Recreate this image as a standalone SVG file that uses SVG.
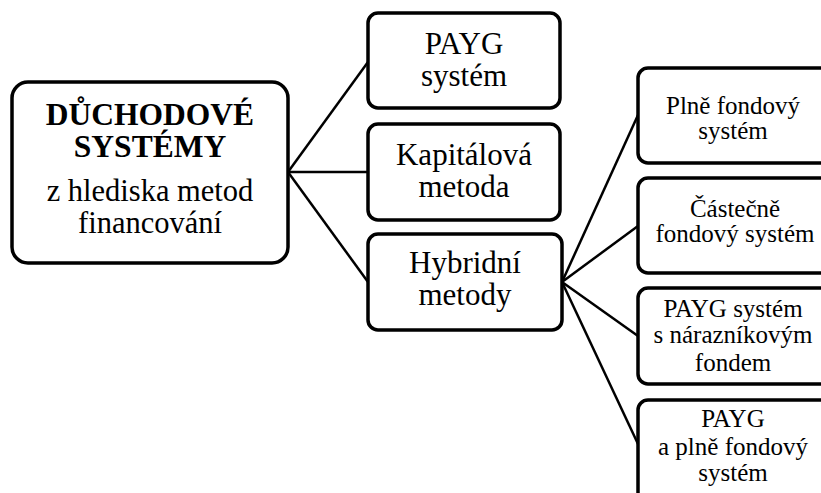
<svg xmlns="http://www.w3.org/2000/svg" width="821" height="493" viewBox="0 0 821 493">
<style>
.box{fill:#fff;stroke:#000;stroke-width:3.5}
.c{stroke:#000;stroke-width:2.5;fill:none}
text{font-family:"Times New Roman","Liberation Serif",Tinos,"Noto Serif","DejaVu Serif",serif;text-anchor:middle;fill:#000}
.b{font-weight:bold;font-size:31.5px}
.m{font-size:31px}
.r{font-size:30.5px}
.s{font-size:25px}
</style>
<rect width="821" height="493" fill="#fff"/>
<g id="connectors">
<line class="c" x1="288" y1="172" x2="368" y2="62"/>
<line class="c" x1="288" y1="172" x2="368" y2="172"/>
<line class="c" x1="288" y1="172" x2="368" y2="282"/>
<line class="c" x1="562" y1="282" x2="638" y2="115"/>
<line class="c" x1="562" y1="282" x2="638" y2="226"/>
<line class="c" x1="562" y1="282" x2="638" y2="336"/>
<line class="c" x1="562" y1="282" x2="638" y2="444"/>
</g>
<g id="root">
<rect class="box" x="12" y="82" width="276" height="181" rx="16"/>
<text class="b" x="150" y="125">DŮCHODOVÉ</text>
<text class="b" x="150" y="157">SYSTÉMY</text>
<text class="r" x="150" y="201">z hlediska metod</text>
<text class="r" x="150" y="233">financování</text>
</g>
<g id="payg">
<rect class="box" x="368" y="13" width="192" height="95" rx="10"/>
<text class="m" x="464" y="54">PAYG</text>
<text class="m" x="464" y="86">systém</text>
</g>
<g id="kapitalova">
<rect class="box" x="368" y="124" width="192" height="96" rx="10"/>
<text class="m" x="464" y="165">Kapitálová</text>
<text class="m" x="464" y="197">metoda</text>
</g>
<g id="hybridni">
<rect class="box" x="368" y="234" width="194" height="96" rx="10"/>
<text class="m" x="465" y="273">Hybridní</text>
<text class="m" x="465" y="305">metody</text>
</g>
<g id="plne">
<rect class="box" x="638" y="68" width="200" height="95" rx="10"/>
<text class="s" x="733" y="114">Plně fondový</text>
<text class="s" x="733" y="139">systém</text>
</g>
<g id="castecne">
<rect class="box" x="638" y="178" width="200" height="95" rx="10"/>
<text class="s" x="735" y="217">Částečně</text>
<text class="s" x="735" y="242">fondový systém</text>
</g>
<g id="narazniky">
<rect class="box" x="638" y="288" width="200" height="96" rx="10"/>
<text class="s" x="733" y="317">PAYG systém</text>
<text class="s" x="733" y="343">s nárazníkovým</text>
<text class="s" x="733" y="371">fondem</text>
</g>
<g id="payg-plne">
<rect class="box" x="638" y="400" width="200" height="110" rx="10"/>
<text class="s" x="733" y="427">PAYG</text>
<text class="s" x="733" y="455">a plně fondový</text>
<text class="s" x="733" y="481">systém</text>
</g>
</svg>
